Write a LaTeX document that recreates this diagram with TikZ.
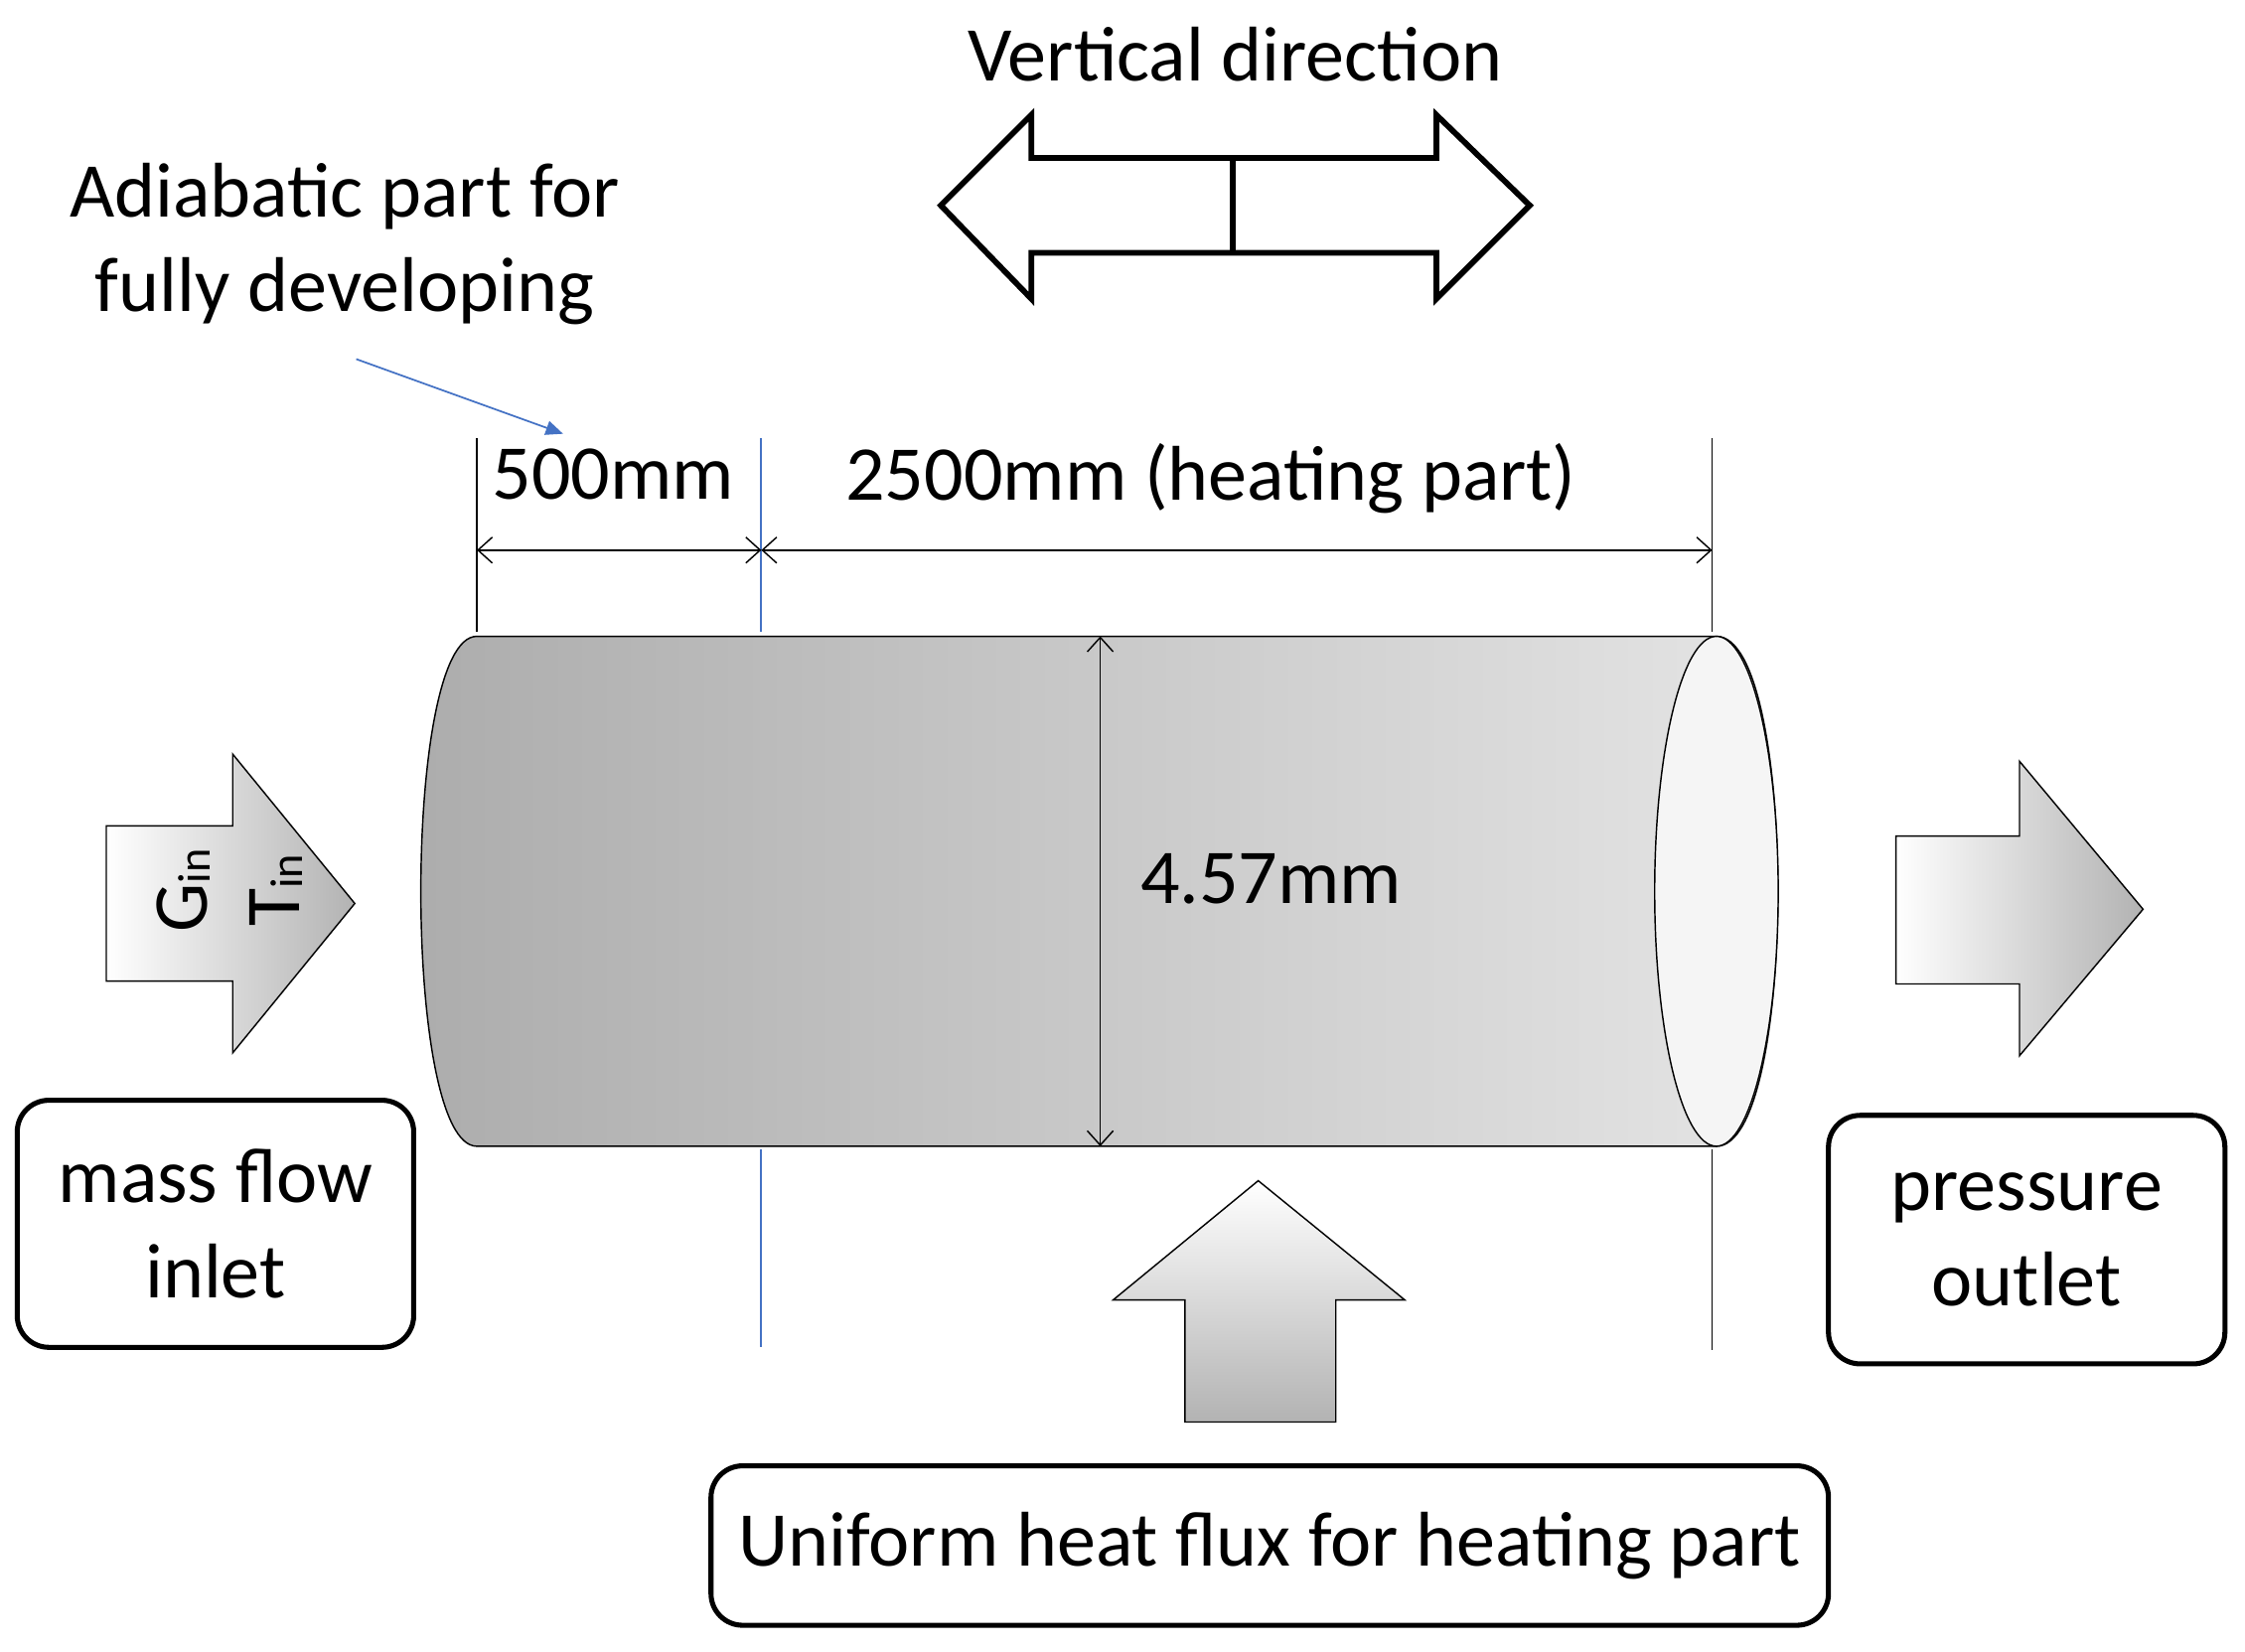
\documentclass[tikz,border=0pt]{standalone}
\usepackage{fontspec}
\setmainfont{Carlito}
\usetikzlibrary{arrows.meta}
\definecolor{ablue}{HTML}{4472C4}
\begin{document}
\begin{tikzpicture}[x=1pt,y=-1pt,
  lbl/.style={font=\fontsize{54}{66}\selectfont},
  box/.style={draw,line width=3.5pt,rounded corners=22pt,inner sep=0pt},
  blk/.style={draw,line width=1pt,left color=white,right color=gray!60},
  dim/.style={line width=1pt,{Straight Barb[length=10pt,width=18pt]}-{Straight Barb[length=10pt,width=18pt]}}]
\useasboundingbox (0,0) rectangle (1563,1150);
% vertical direction
\node[lbl] (vd) at (860,38) {Vertical direction};
\draw[line width=4pt,line join=miter] (655,143)--(718,80)--(718,110)--(1000,110)--(1000,80)--(1065,143)--(1000,208)--(1000,176)--(718,176)--(718,208)--cycle;
\draw[line width=4pt] (858,110)--(858,176);
% adiabatic
\node[lbl,align=center] (ad) at (240,170) {Adiabatic part for\\fully developing};
\coordinate (ad1) at (248,250); \coordinate (ad2) at (392,302);
\draw[ablue,line width=1.2pt,-{Triangle[length=12pt,width=10pt]}] (ad1)--(ad2);
% cylinder
\shade[left color=gray!65,right color=gray!20,draw,line width=1pt] (332,443)--(1195,443) .. controls (1252,443) and (1252,798) .. (1195,798)--(332,798) .. controls (280,798) and (280,443) .. (332,443);
\draw[line width=1pt,fill=gray!8] (1195,620.5) ellipse[x radius=43,y radius=177.5];
% dimension lines
\draw[line width=1pt] (332,305)--(332,440);
\draw[ablue,line width=1.2pt] (530,305)--(530,440) (530,800)--(530,938);
\draw[line width=1pt] (1192,305)--(1192,440) (1192,800)--(1192,940);
\coordinate (d1) at (332,383); \coordinate (d2) at (530,383); \coordinate (d3) at (1192,383);
\draw[dim] (d1)--(d2); \draw[dim] (d2)--(d3);
\node[lbl] (l500) at (427,330) {500mm};
\node[lbl] (l2500) at (843,333) {2500mm (heating part)};
\coordinate (v1) at (766,443); \coordinate (v2) at (766,798);
\draw[dim] (v1)--(v2);
\node[lbl] (ld) at (885,612) {4.57mm};
% inlet arrow
\draw[blk] (74,575)--(162,575)--(162,525)--(247,629)--(162,733)--(162,683)--(74,683)--cycle;
\node[lbl,rotate=90] (g) at (128,620) {G\raisebox{-2pt}{\fontsize{32}{32}\selectfont in}};
\node[lbl,rotate=90] (t) at (192,620) {T\raisebox{-2pt}{\fontsize{32}{32}\selectfont in}};
% outlet arrow
\draw[blk] (1320,582)--(1406,582)--(1406,530)--(1492,633)--(1406,735)--(1406,685)--(1320,685)--cycle;
% up arrow
\draw[draw,line width=1pt,top color=white,bottom color=gray!60] (876,822)--(978,905)--(930,905)--(930,990)--(825,990)--(825,905)--(775,905)--cycle;
% boxes
\node[box,lbl,align=center,minimum width=276pt,minimum height=172pt] (in) at (150,852) {mass flow\\inlet};
\node[box,lbl,align=center,minimum width=276pt,minimum height=173pt] (out) at (1411,863) {pressure\\outlet};
\node[box,lbl,minimum width=778pt,minimum height=111pt] (hf) at (884,1076) {Uniform heat flux for heating part};
\end{tikzpicture}
\end{document}
